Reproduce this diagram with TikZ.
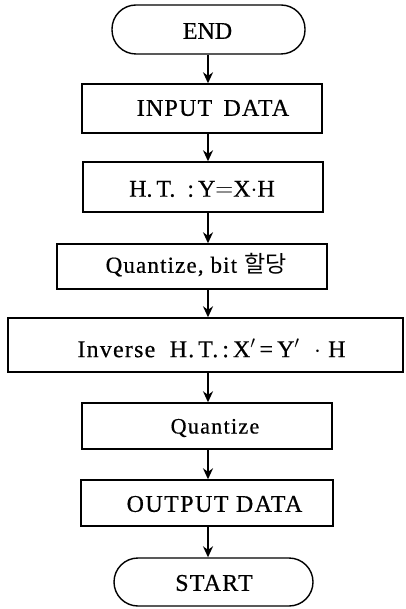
\documentclass[tikz,border=0pt]{standalone}
\usepackage{fontspec}
\setmainfont{Liberation Serif}[FakeBold=0.5]
\newfontfamily\krfont{Noto Sans CJK KR}
\usetikzlibrary{arrows.meta}
\begin{document}
\begin{tikzpicture}[x=1pt,y=-1pt,
  boxst/.style={draw,line width=1.4pt,inner sep=0pt},
  termst/.style={draw,line width=1.4pt,inner sep=0pt,rounded corners=24pt},
  txt/.style={inner sep=0pt,font=\fontsize{24}{26}\selectfont},
  flow/.style={line width=1.8pt,-{Stealth[length=11pt,width=10pt]}}]
\useasboundingbox (0,0) rectangle (405,609);
\coordinate (ax) at (208,0);
% boxes
\node[termst,minimum width=193pt,minimum height=49pt] (endb) at (208.5,29.5) {};
\node[boxst,minimum width=240pt,minimum height=49pt] (inb) at (202,108.5) {};
\node[boxst,minimum width=240pt,minimum height=50pt] (htb) at (203,187) {};
\node[boxst,minimum width=270pt,minimum height=45pt] (qbb) at (192,266.5) {};
\node[boxst,minimum width=395pt,minimum height=54pt] (ivb) at (205.5,345) {};
\node[boxst,minimum width=250pt,minimum height=46pt] (qb) at (207,426) {};
\node[boxst,minimum width=252pt,minimum height=46pt] (outb) at (207,503) {};
\node[termst,minimum width=199pt,minimum height=48pt] (startb) at (213.5,582) {};
% texts
\node[txt] (endt) at (207.5,31) {END};
\node[txt] (int) at (213,108) {\addfontfeature{LetterSpace=5}INPUT\ \,DATA};
\node[txt] (htt) at (202,189) {H.\,T.\ \ :\,Y${=}$X$\cdot$H};
\node[txt,font=\fontsize{23}{25}\selectfont] (qbt) at (196,265) {\addfontfeature{LetterSpace=5}Quantize, bit\ {\krfont 할당}};
\node[txt] (ivt) at (211.5,348) {\addfontfeature{LetterSpace=5}Inverse\ \ H.\,T.\,:\,X$'$\,=\,Y$'$\ \ $\cdot$\ H};
\node[txt,font=\fontsize{22}{24}\selectfont] (qt) at (215,428) {\addfontfeature{LetterSpace=6}Quantize};
\node[txt] (outt) at (214.5,504) {\addfontfeature{LetterSpace=6}OUTPUT DATA};
\node[txt] (startt) at (214,583) {\addfontfeature{LetterSpace=5}START};
% connectors
\draw[flow] (endb.south -| ax) -- (inb.north -| ax);
\draw[flow] (inb.south -| ax) -- (htb.north -| ax);
\draw[flow] (htb.south -| ax) -- (qbb.north -| ax);
\draw[flow] (qbb.south -| ax) -- (ivb.north -| ax);
\draw[flow] (ivb.south -| ax) -- (qb.north -| ax);
\draw[flow] (qb.south -| ax) -- (outb.north -| ax);
\draw[flow] (outb.south -| ax) -- (startb.north -| ax);
\end{tikzpicture}
\end{document}
